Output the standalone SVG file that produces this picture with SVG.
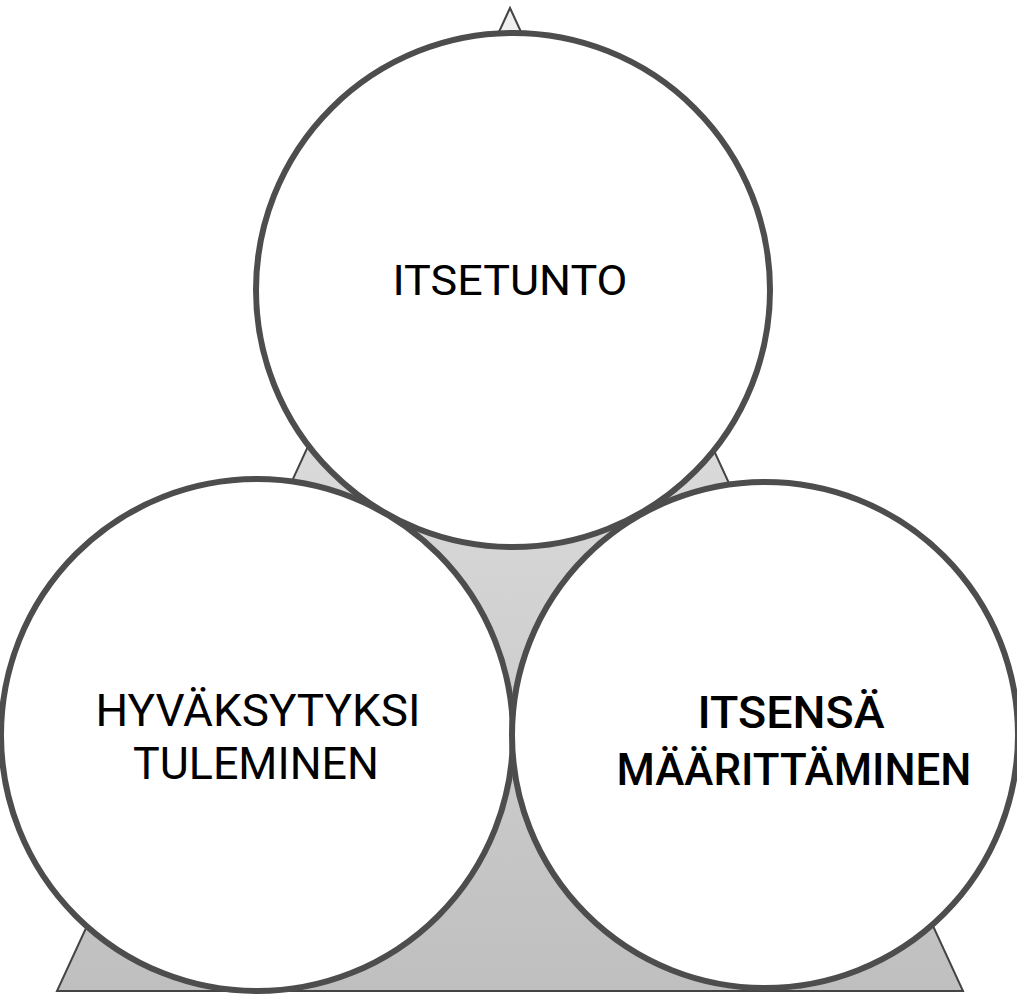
<svg xmlns="http://www.w3.org/2000/svg" width="1017" height="994" viewBox="0 0 1017 994">
<defs>
<linearGradient id="tg" x1="0" y1="0" x2="0" y2="1">
<stop offset="0" stop-color="#f0f0f0"/>
<stop offset="1" stop-color="#bfbfbf"/>
</linearGradient>
<style>
.c{fill:#fff;stroke:#4d4d4d;stroke-width:6}
.t{font-family:Roboto,"Liberation Sans",sans-serif;fill:#000;text-anchor:middle}
</style>
</defs>
<rect width="1017" height="994" fill="#fff"/>
<g id="triangle">
<polygon points="510,8 963,991 57,991" fill="url(#tg)" stroke="#444" stroke-width="2"/>
</g>
<g id="connectors"></g>
<g id="node-top">
<circle class="c" cx="513" cy="290" r="257"/>
<text class="t" x="510" y="295" font-size="43" textLength="235" lengthAdjust="spacingAndGlyphs">ITSETUNTO</text>
</g>
<g id="node-left">
<circle class="c" cx="257" cy="735" r="256"/>
<text class="t" x="258" y="726" font-size="44" textLength="325" lengthAdjust="spacingAndGlyphs">HYVÄKSYTYKSI</text>
<text class="t" x="256" y="779" font-size="44" textLength="246" lengthAdjust="spacingAndGlyphs">TULEMINEN</text>
</g>
<g id="node-right">
<circle class="c" cx="765" cy="735" r="253"/>
<text class="t" x="791" y="728" font-size="45" font-weight="500" textLength="187" lengthAdjust="spacingAndGlyphs">ITSENSÄ</text>
<text class="t" x="794" y="785" font-size="45" font-weight="500" textLength="355" lengthAdjust="spacingAndGlyphs">MÄÄRITTÄMINEN</text>
</g>
</svg>
